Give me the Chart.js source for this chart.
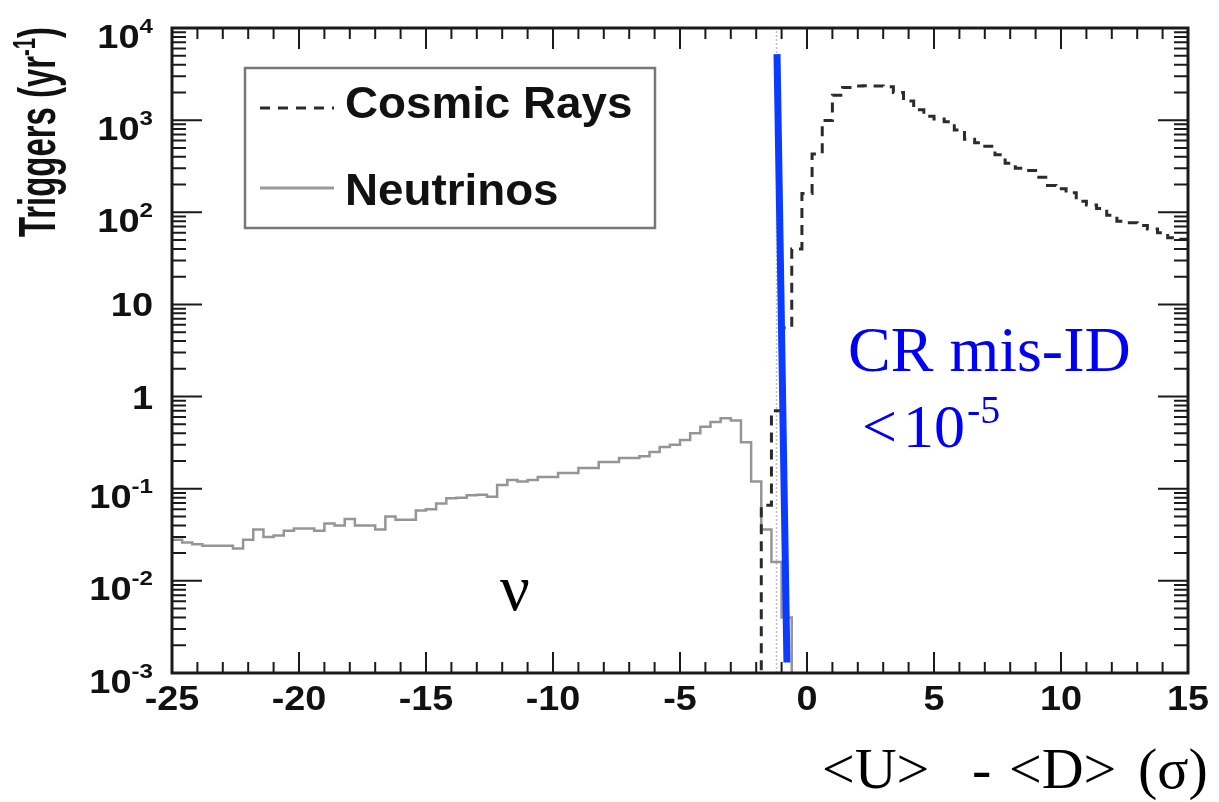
<!DOCTYPE html>
<html>
<head>
<meta charset="utf-8">
<title>Triggers vs U-D</title>
<script src="https://cdn.jsdelivr.net/npm/chart.js@4.4.1/dist/chart.umd.min.js"></script>
<style>
    html, body { margin: 0; padding: 0; background: #fff; }
    #wrap { width: 1219px; height: 802px; }
</style>
</head>
<body>
<div id="wrap"><canvas id="triggers_chart" width="1219" height="802"></canvas></div>
<script>
// Histogram binning, in sigma
var binWidth = 0.4;
var xMin = -25, xMax = 15;
var yMin = 1e-3, yMax = 1e4;

// Neutrino triggers per year, bins from -25
var nuStart = -25;
var nuCounts = [
    0.028, 0.026, 0.025, 0.024, 0.024, 0.024, 0.0225, 0.028, 0.036, 0.030,
    0.031, 0.035, 0.037, 0.037, 0.035, 0.042, 0.040, 0.047, 0.040, 0.040,
    0.036, 0.050, 0.046, 0.046, 0.058, 0.060, 0.069, 0.079, 0.080, 0.085,
    0.086, 0.082, 0.110, 0.124, 0.120, 0.124, 0.134, 0.134, 0.148, 0.148,
    0.168, 0.168, 0.195, 0.195, 0.216, 0.216, 0.225, 0.250, 0.284, 0.300,
    0.338, 0.400, 0.470, 0.530, 0.580, 0.550, 0.320, 0.120, 0.036, 0.016,
    0.004
];

// Cosmic ray triggers per year, bins from -1.8
var crStart = -1.8;
var crCounts = [
    0.066, 0.7, 5.6, 40, 160, 430, 990, 1860, 2260, 2340,
    2360, 2350, 2300, 2000, 1610, 1300, 1100, 1030, 960, 780,
    620, 570, 520, 420, 340, 300, 285, 240, 195, 180,
    163, 132, 120, 110, 93, 80, 77, 72, 66, 60,
    53, 51
];

// Axis ticks
var xTickLabels = [-25, -20, -15, -10, -5, 0, 5, 10, 15];
var yDecades = [-3, -2, -1, 0, 1, 2, 3, 4];

// Cut line (end points) and the dotted reference next to it
var cutX = [-1.18, -0.79];
var cutY = [5200, 0.0013];
var cutRefX = -1.2;

// level used for empty bins, below the axis floor
var emptyLevel = 1e-5;

var SANS = 'Arial, "Liberation Sans", Helvetica, sans-serif';
var SERIF = '"Times New Roman", "Liberation Serif", serif';

/**
 * Build step points for a histogram (stepped: 'before')
 */
function histPoints(start, counts, riseLeft, dropRight) {
    var pts = [];
    if (riseLeft) {
        pts.push({x: start, y: emptyLevel});
    }
    for (var i = 0; i < counts.length; i++) {
        pts.push({x: start + i * binWidth, y: counts[i]});
    }
    var end = Math.min(start + counts.length * binWidth, xMax);
    pts.push({x: end, y: dropRight ? emptyLevel : counts[counts.length - 1]});
    return pts;
}

/**
 * Draw a run of text pieces [text, font, rise] with a horizontal squeeze
 */
function drawRun(ctx, parts, x, y, align, sx) {
    sx = sx || 1;
    var total = 0;
    parts.forEach(function(p) {
        ctx.font = p[1];
        total += ctx.measureText(p[0]).width;
    });
    var startX = x;
    if (align === 'right') startX = x - total * sx;
    if (align === 'center') startX = x - total * sx / 2;
    ctx.save();
    ctx.textAlign = 'left';
    ctx.textBaseline = 'alphabetic';
    ctx.translate(startX, y);
    ctx.scale(sx, 1);
    var cx = 0;
    parts.forEach(function(p) {
        ctx.font = p[1];
        ctx.fillText(p[0], cx, -(p[2] || 0));
        cx += ctx.measureText(p[0]).width;
    });
    ctx.restore();
    return total;
}

// Frame, inside ticks, tick labels, legend and text annotations
var framePlugin = {
    id: 'rootFrame',
    afterDraw: function(chart) {
        var ctx = chart.ctx;
        var xs = chart.scales.x, ys = chart.scales.y;
        var area = chart.chartArea;
        var L = area.left, R = area.right, T = area.top, B = area.bottom;

        ctx.save();
        ctx.strokeStyle = '#1a1a1a';
        ctx.lineWidth = 2;
        ctx.beginPath();

        // x ticks, bottom and top
        for (var v = xMin; v <= xMax; v++) {
            var px = xs.getPixelForValue(v);
            var len = (v % 5 === 0) ? 21 : 11;
            ctx.moveTo(px, B); ctx.lineTo(px, B - len);
            ctx.moveTo(px, T); ctx.lineTo(px, T + len);
        }

        // y ticks (log), left and right
        yDecades.forEach(function(d) {
            var py = ys.getPixelForValue(Math.pow(10, d));
            ctx.moveTo(L, py); ctx.lineTo(L + 30, py);
            ctx.moveTo(R, py); ctx.lineTo(R - 30, py);
            if (d < yDecades[yDecades.length - 1]) {
                for (var m = 2; m <= 9; m++) {
                    var pm = ys.getPixelForValue(m * Math.pow(10, d));
                    ctx.moveTo(L, pm); ctx.lineTo(L + 14, pm);
                    ctx.moveTo(R, pm); ctx.lineTo(R - 14, pm);
                }
            }
        });
        ctx.stroke();

        // frame
        ctx.lineWidth = 3;
        ctx.strokeRect(L, T, R - L, B - T);

        // x tick labels
        ctx.fillStyle = '#111';
        xTickLabels.forEach(function(v) {
            drawRun(ctx, [[String(v), 'bold 35px ' + SANS]], xs.getPixelForValue(v), B + 37, 'center', 1.08);
        });

        // y tick labels
        yDecades.forEach(function(d) {
            var py = ys.getPixelForValue(Math.pow(10, d));
            var parts;
            if (d === 0) {
                parts = [['1', 'bold 33px ' + SANS]];
            } else if (d === 1) {
                parts = [['10', 'bold 33px ' + SANS]];
            } else {
                parts = [['10', 'bold 33px ' + SANS], [String(d), 'bold 21px ' + SANS, 15]];
            }
            var base = (d === 0 || d === 1) ? py + 12 : py + 19.5;
            drawRun(ctx, parts, L - 19, base, 'right', 1.15);
        });

        // y axis title, rotated
        ctx.save();
        ctx.translate(55, 237);
        ctx.rotate(-Math.PI / 2);
        var titleParts = [
            ['Triggers (yr', 'bold 52px ' + SANS],
            ['-1', 'bold 32px ' + SANS, 20],
            [')', 'bold 52px ' + SANS]
        ];
        var w = 0;
        titleParts.forEach(function(p) { ctx.font = p[1]; w += ctx.measureText(p[0]).width; });
        drawRun(ctx, titleParts, 0, 0, 'left', 210 / w);
        ctx.restore();

        // legend box
        ctx.fillStyle = '#fff';
        ctx.fillRect(245, 68, 410, 160);
        ctx.strokeStyle = '#777';
        ctx.lineWidth = 2.5;
        ctx.strokeRect(245, 68, 410, 160);

        ctx.lineWidth = 3;
        ctx.strokeStyle = '#2b2b2b';
        ctx.setLineDash([10, 8]);
        ctx.beginPath();
        ctx.moveTo(260, 108); ctx.lineTo(334, 108);
        ctx.stroke();
        ctx.setLineDash([]);
        ctx.strokeStyle = '#999';
        ctx.beginPath();
        ctx.moveTo(260, 188); ctx.lineTo(334, 188);
        ctx.stroke();

        ctx.fillStyle = '#111';
        drawRun(ctx, [['Cosmic Rays', 'bold 44px ' + SANS]], 345, 118, 'left', 1.04);
        drawRun(ctx, [['Neutrinos', 'bold 44px ' + SANS]], 345, 205, 'left', 1.04);

        // annotations
        ctx.fillStyle = '#0000f5';
        drawRun(ctx, [['CR mis-ID', '64px ' + SERIF]], 848, 371, 'left');
        drawRun(ctx, [['<', '62px ' + SERIF]], 862, 447, 'left');
        drawRun(ctx, [['10', '62px ' + SERIF]], 903, 447, 'left');
        drawRun(ctx, [['-5', '40px ' + SERIF]], 967, 423, 'left');

        ctx.fillStyle = '#000';
        drawRun(ctx, [['\u03bd', '66px ' + SERIF]], 500, 610, 'left');

        // x axis title
        var tf = '58px ' + SERIF;
        drawRun(ctx, [['<U>', tf]], 822, 788, 'left');
        drawRun(ctx, [['-', tf]], 972, 788, 'left');
        drawRun(ctx, [['<D>', tf]], 1009, 788, 'left');
        drawRun(ctx, [['(\u03c3)', tf]], 1138, 788, 'left');

        ctx.restore();
    }
};

/**
 * Render the trigger rate histograms
 */
function renderTriggersChart() {
    var ctx = document.getElementById('triggers_chart').getContext('2d');

    new Chart(ctx, {
        type: 'line',
        data: {
            datasets: [
                {
                    label: 'cut',
                    data: [{x: cutX[0], y: cutY[0]}, {x: cutX[1], y: cutY[1]}],
                    borderColor: '#0b3bff',
                    borderWidth: 7,
                    borderCapStyle: 'butt',
                    pointRadius: 0,
                    fill: false
                },
                {
                    label: 'Cosmic Rays',
                    data: histPoints(crStart, crCounts, true, false),
                    stepped: 'before',
                    borderColor: '#2b2b2b',
                    borderWidth: 3,
                    borderDash: [10, 7],
                    pointRadius: 0,
                    fill: false,
                    clip: 0
                },
                {
                    label: 'Neutrinos',
                    data: histPoints(nuStart, nuCounts, false, true),
                    stepped: 'before',
                    borderColor: '#959595',
                    borderWidth: 2.5,
                    pointRadius: 0,
                    fill: false,
                    clip: 0
                },
                {
                    label: 'reference',
                    data: [{x: cutRefX, y: yMin}, {x: cutRefX, y: yMax}],
                    borderColor: '#bdbdbd',
                    borderWidth: 1.5,
                    borderDash: [2, 2],
                    pointRadius: 0,
                    fill: false
                }
            ]
        },
        options: {
            responsive: false,
            animation: false,
            events: [],
            layout: {
                padding: { left: 172, right: 31, top: 28, bottom: 129 }
            },
            scales: {
                x: { type: 'linear', min: xMin, max: xMax, display: false },
                y: { type: 'logarithmic', min: yMin, max: yMax, display: false }
            },
            plugins: {
                legend: { display: false },
                tooltip: { enabled: false }
            }
        },
        plugins: [framePlugin]
    });
}

renderTriggersChart();
</script>
</body>
</html>
